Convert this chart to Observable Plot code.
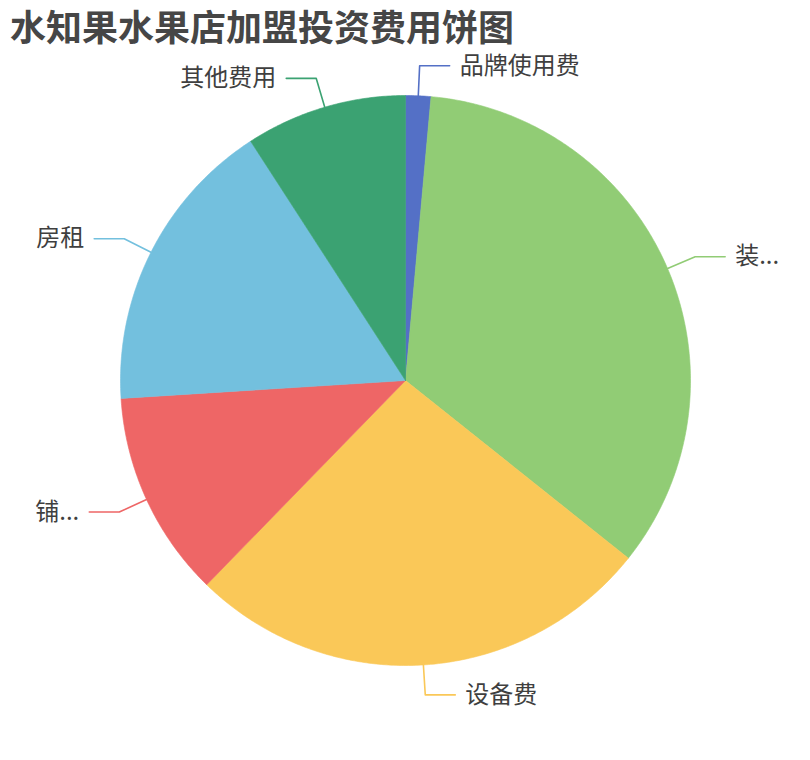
<!DOCTYPE html>
<html>
<head>
<meta charset="utf-8">
<script src="https://cdn.jsdelivr.net/npm/d3@7"></script>
<script src="https://cdn.jsdelivr.net/npm/@observablehq/plot@0.6"></script>
<style>
  html, body { margin: 0; padding: 0; background: #fff; }
  #title { height: 40px; line-height: 50px; padding-left: 10px; font-family: "Noto Sans CJK SC", sans-serif; font-weight: bold; font-size: 36px; color: #464646; white-space: nowrap; overflow: visible; }
  #chart svg { display: block; }
</style>
</head>
<body>
<div id="title">水知果水果店加盟投资费用饼图</div>
<div id="chart"></div>
<script>
// Data (万元)
const names = ["品牌使用费", "装修费", "设备费", "铺面转让费", "房租", "其他费用"];
const labels = ["品牌使用费", "装...", "设备费", "铺...", "房租", "其他费用"];
const values = [0.5, 12, 9.3, 4.1, 5.9, 3.2];
const colors = ["#5470c6", "#91cc75", "#fac858", "#ee6666", "#73c0de", "#3ba272"];

const W = 810, H = 720;
const R = 285;           // pixel radius
const cx = 405, cy = 340; // pixel centre inside svg
const len1 = 30 / R, len2 = 30 / R;

const rows = names.map((n, i) => ({name: n, label: labels[i], value: values[i]}));
const arcs = d3.pie().sort(null).value(d => d.value)(rows);

// slice polygons
const polys = [];
arcs.forEach(a => {
  const n = a.data.name;
  polys.push({name: n, x: 0, y: 0});
  const steps = Math.max(2, Math.ceil((a.endAngle - a.startAngle) / (Math.PI / 360)));
  for (let k = 0; k <= steps; k++) {
    const t = a.startAngle + (a.endAngle - a.startAngle) * k / steps;
    polys.push({name: n, x: Math.sin(t), y: Math.cos(t)});
  }
  polys.push({name: n, x: 0, y: 0});
});

// leader lines and label anchors
const leaders = [];
const labelPts = [];
arcs.forEach(a => {
  const m = (a.startAngle + a.endAngle) / 2;
  const s = Math.sin(m), c = Math.cos(m);
  const right = s >= 0;
  const p2 = {x: s * (1 + len1), y: c * (1 + len1)};
  const p3 = {x: p2.x + (right ? len2 : -len2), y: p2.y};
  const n = a.data.name;
  leaders.push({name: n, x: s, y: c}, {name: n, ...p2}, {name: n, ...p3});
  labelPts.push({name: n, label: a.data.label, right, ...p3});
});

const plot = Plot.plot({
  width: W,
  height: H,
  margin: 0,
  x: {domain: [-cx / R, (W - cx) / R], axis: null},
  y: {domain: [-(H - cy) / R, cy / R], axis: null},
  color: {type: "ordinal", domain: names, range: colors},
  style: {fontFamily: "'Noto Sans CJK SC', sans-serif", background: "#fff"},
  marks: [
    Plot.line(polys, {x: "x", y: "y", z: "name", fill: "name", stroke: "name", strokeWidth: 0.6, curve: "linear"}),
    Plot.line(leaders, {x: "x", y: "y", z: "name", stroke: "name", strokeWidth: 1.6, curve: "linear"}),
    Plot.text(labelPts.filter(d => d.right), {x: "x", y: "y", text: "label", textAnchor: "start", dx: 10, fontSize: 24, fill: "#3f3f3f"}),
    Plot.text(labelPts.filter(d => !d.right), {x: "x", y: "y", text: "label", textAnchor: "end", dx: -10, fontSize: 24, fill: "#3f3f3f"})
  ]
});
document.getElementById("chart").appendChild(plot);
</script>
</body>
</html>
